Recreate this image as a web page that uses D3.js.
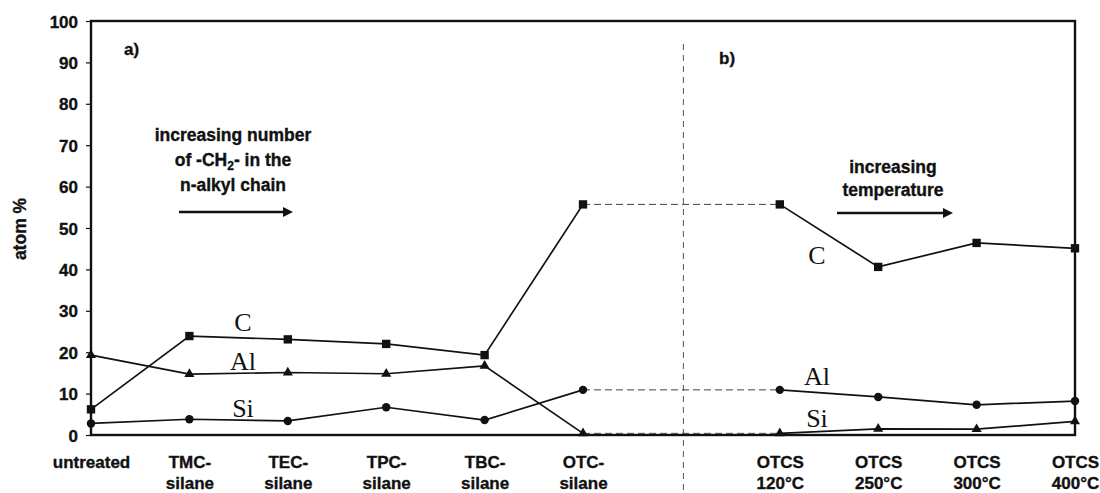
<!DOCTYPE html>
<html>
<head>
<meta charset="utf-8">
<script src="https://cdn.jsdelivr.net/npm/d3@7"></script>
<style>
  html, body { margin: 0; padding: 0; background: #fff; }
  svg { display: block; }
  .bold { font-family: "Liberation Sans", Arial, sans-serif; font-weight: bold; fill: #111; stroke: #111; stroke-width: 0.35px; }
  .serif { font-family: "Liberation Serif", "Times New Roman", serif; fill: #111; }
</style>
</head>
<body>
<svg id="chart" width="1100" height="493"></svg>
<script>
// Sample positions along the x axis (slot 6 is the gap between panels a and b)
const categoryLabels = [
  ["untreated"], ["TMC-", "silane"], ["TEC-", "silane"], ["TPC-", "silane"],
  ["TBC-", "silane"], ["OTC-", "silane"], null,
  ["OTCS", "120°C"], ["OTCS", "250°C"], ["OTCS", "300°C"], ["OTCS", "400°C"]
];

// atom % per sample, one array per marker series (null = gap slot)
const squareSeries   = [6.2, 23.9, 23.1, 22.0, 19.3, 55.7, null, 55.7, 40.6, 46.4, 45.1];
const triangleSeries = [19.3, 14.7, 15.1, 14.8, 16.7, 0.4, null, 0.4, 1.5, 1.4, 3.3];
const circleSeries   = [2.8, 3.8, 3.4, 6.7, 3.6, 10.9, null, 10.9, 9.2, 7.3, 8.2];

const yTicks = [0, 10, 20, 30, 40, 50, 60, 70, 80, 90, 100];

// index ranges of the two panels and the bridge between them
const panelA = [0, 1, 2, 3, 4, 5];
const panelB = [7, 8, 9, 10];
const bridge = [5, 7];

const svg = d3.select("#chart");
const plotLeft = 91, plotRight = 1075, plotTop = 21, plotBottom = 435;
const labelSize = "17px";

const x = d3.scalePoint().domain(d3.range(categoryLabels.length)).range([plotLeft, plotRight]);
const y = d3.scaleLinear().domain([0, 100]).range([plotBottom, plotTop]);

// y axis ticks and labels
const yAxis = svg.append("g")
  .attr("transform", `translate(${plotLeft},0)`)
  .call(d3.axisLeft(y).tickValues(yTicks).tickSize(5).tickPadding(8));
yAxis.select(".domain").remove();
yAxis.selectAll("line").attr("stroke", "#111").attr("stroke-width", 1.2);
yAxis.selectAll("text").attr("class", "bold").style("font-size", labelSize).attr("dy", "0.36em");

// x axis category labels (two lines each)
const xAxis = svg.append("g")
  .attr("transform", `translate(0,${plotBottom})`)
  .call(d3.axisBottom(x).tickSize(0).tickFormat(() => ""));
xAxis.select(".domain").remove();
xAxis.selectAll(".tick").each(function (i) {
  const lines = categoryLabels[i];
  const t = d3.select(this).select("text").attr("class", "bold")
    .style("font-size", labelSize).attr("y", 0).attr("dy", null);
  if (!lines) return;
  lines.forEach((s, k) => {
    t.append("tspan").attr("x", 0).attr("y", 33 + k * 21).text(s);
  });
});

// y axis title
svg.append("text").attr("class", "bold")
  .attr("transform", "translate(26,229) rotate(-90)")
  .attr("text-anchor", "middle")
  .style("font-size", "17.5px")
  .text("atom %");

// panel separator
svg.append("line")
  .attr("x1", x(6) + 2).attr("x2", x(6) + 2)
  .attr("y1", 44).attr("y2", 493)
  .attr("stroke", "#555").attr("stroke-width", 1)
  .attr("stroke-dasharray", "6,5");

// plot frame
svg.append("rect")
  .attr("x", plotLeft).attr("y", plotTop)
  .attr("width", plotRight - plotLeft).attr("height", plotBottom - plotTop)
  .attr("fill", "none").attr("stroke", "#111").attr("stroke-width", 2.4);

const allSeries = [
  { values: squareSeries, shape: d3.symbolSquare, size: 70 },
  { values: triangleSeries, shape: d3.symbolTriangle, size: 44 },
  { values: circleSeries, shape: d3.symbolCircle, size: 56 }
];

allSeries.forEach(s => {
  const lineGen = d3.line().x(i => x(i)).y(i => y(s.values[i]));
  // dashed bridge between panels
  svg.append("path")
    .attr("d", lineGen(bridge))
    .attr("fill", "none").attr("stroke", "#444").attr("stroke-width", 1)
    .attr("stroke-dasharray", "7,4");
  [panelA, panelB].forEach(idx => {
    svg.append("path")
      .attr("d", lineGen(idx))
      .attr("fill", "none").attr("stroke", "#111").attr("stroke-width", 1.7);
  });
  const pts = s.values.map((v, i) => ({ v, i })).filter(d => d.v !== null);
  svg.append("g").selectAll("path")
    .data(pts).join("path")
    .attr("transform", d => `translate(${x(d.i)},${y(d.v)})`)
    .attr("d", d3.symbol().type(s.shape).size(s.size))
    .attr("fill", "#111");
});

// element labels
const elementLabels = [
  { t: "C", x: 243, y: 331 }, { t: "Al", x: 243, y: 370 }, { t: "Si", x: 243, y: 417 },
  { t: "C", x: 817, y: 264 }, { t: "Al", x: 817, y: 385 }, { t: "Si", x: 817, y: 427 }
];
svg.append("g").selectAll("text").data(elementLabels).join("text")
  .attr("class", "serif")
  .attr("x", d => d.x).attr("y", d => d.y)
  .attr("text-anchor", "middle")
  .style("font-size", "26px")
  .text(d => d.t);

// panel tags
svg.append("text").attr("class", "bold").attr("x", 124).attr("y", 55)
  .style("font-size", labelSize).text("a)");
svg.append("text").attr("class", "bold").attr("x", 719).attr("y", 64)
  .style("font-size", labelSize).text("b)");

// annotation texts
const noteA = svg.append("text").attr("class", "bold")
  .attr("text-anchor", "middle").style("font-size", "17.5px");
noteA.append("tspan").attr("x", 233).attr("y", 141).text("increasing number");
const l2 = noteA.append("tspan").attr("x", 233).attr("y", 166);
l2.append("tspan").text("of -CH");
l2.append("tspan").attr("dy", 4).style("font-size", "12px").text("2");
l2.append("tspan").attr("dy", -4).text("- in the");
noteA.append("tspan").attr("x", 233).attr("y", 191).text("n-alkyl chain");

const noteB = svg.append("text").attr("class", "bold")
  .attr("text-anchor", "middle").style("font-size", "17.5px");
noteB.append("tspan").attr("x", 893).attr("y", 173).text("increasing");
noteB.append("tspan").attr("x", 893).attr("y", 196).text("temperature");

// arrows
const defs = svg.append("defs");
defs.append("marker").attr("id", "arrowhead")
  .attr("viewBox", "0 0 10 10").attr("refX", 1).attr("refY", 5)
  .attr("markerWidth", 4.5).attr("markerHeight", 4)
  .attr("markerUnits", "strokeWidth")
  .attr("orient", "auto")
  .append("path").attr("d", "M0,0 L10,5 L0,10 Z").attr("fill", "#111");

[[179, 284, 212], [837, 944, 213]].forEach(([x1, x2, yy]) => {
  svg.append("line")
    .attr("x1", x1).attr("x2", x2).attr("y1", yy).attr("y2", yy)
    .attr("stroke", "#111").attr("stroke-width", 2.5)
    .attr("marker-end", "url(#arrowhead)");
});
</script>
</body>
</html>
